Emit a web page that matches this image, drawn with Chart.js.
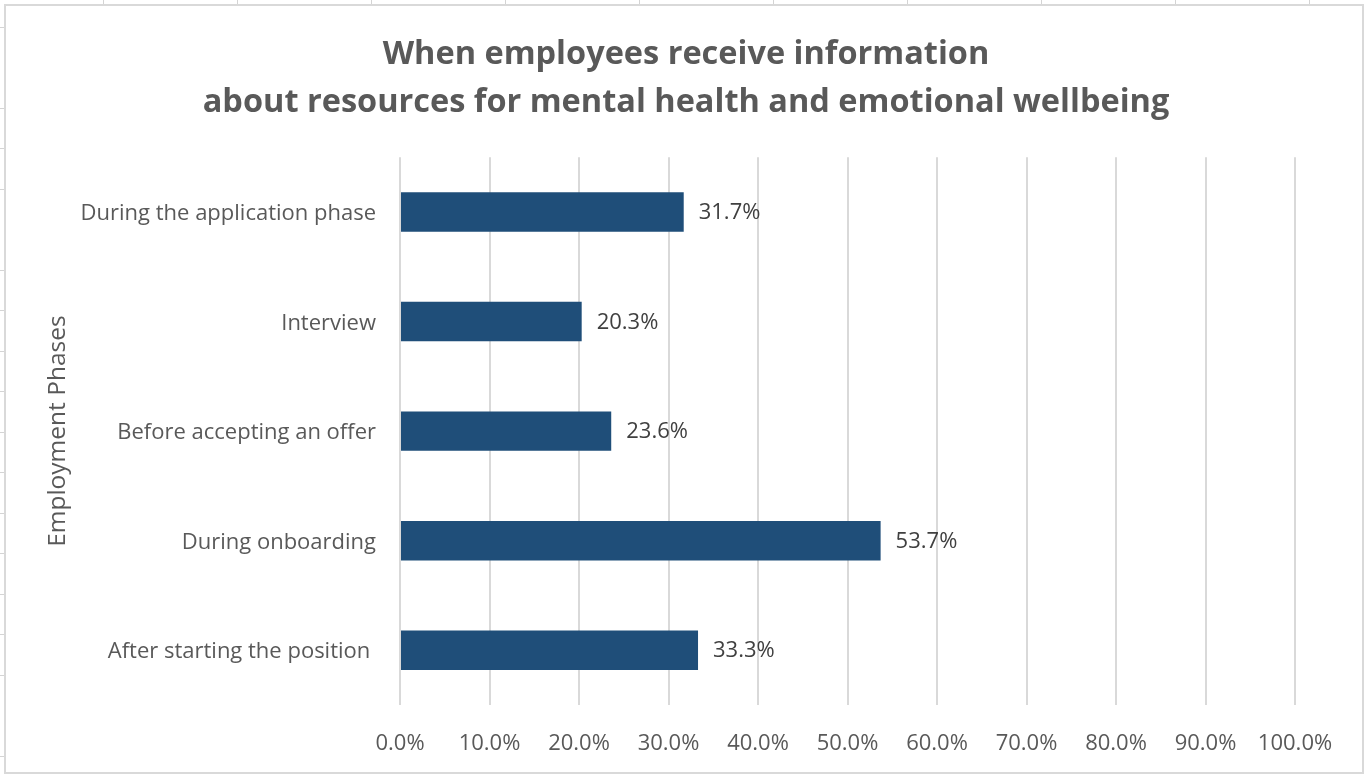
<!DOCTYPE html>
<html>
<head>
<meta charset="utf-8">
<script src="https://cdn.jsdelivr.net/npm/chart.js@4"></script>
<style>
  html, body {
    margin: 0;
    padding: 0;
    width: 1364px;
    height: 774px;
    overflow: hidden;
    background-color: #fff;
    /* spreadsheet cell lines peeking out behind the chart box */
    background-image:
      repeating-linear-gradient(to right, transparent 0, transparent 103px, #d4d4d4 103px, #d4d4d4 104px, transparent 104px, transparent 134px),
      repeating-linear-gradient(to bottom, transparent 0, transparent 27px, #d4d4d4 27px, #d4d4d4 28px, transparent 28px, transparent 40.5px);
  }
  .chart-box {
    position: absolute;
    left: 4px;
    top: 4px;
    width: 1356px;
    height: 766px;
    border: 2px solid #d9d9d9;
    background: #fff;
  }
  canvas {
    position: absolute;
    left: 0;
    top: 0;
  }
</style>
</head>
<body>
<div class="chart-box"></div>
<canvas id="phaseChart" width="1364" height="774"></canvas>

<script>

// =========================
// DATA
// =========================

const phases = [
    'During the application phase',
    'Interview',
    'Before accepting an offer',
    'During onboarding',
    'After starting the position '
];

const shares = [31.7, 20.3, 23.6, 53.7, 33.3];

const percentTicks = [0, 10, 20, 30, 40, 50, 60, 70, 80, 90, 100];

const titleLines = [
    'When employees receive information',
    'about resources for mental health and emotional wellbeing'
];

const axisTitle = 'Employment Phases';

// =========================
// STYLE
// =========================

const FONT = '"Open Sans", Lato, sans-serif';
const GREY = '#595959';

// value labels to the right of each bar
const barValueLabels = {
    id: 'barValueLabels',
    afterDatasetsDraw(chart){
        const ctx = chart.ctx;
        const meta = chart.getDatasetMeta(0);
        ctx.save();
        ctx.font = '22px ' + FONT;
        ctx.fillStyle = '#404040';
        ctx.textAlign = 'left';
        ctx.textBaseline = 'middle';
        meta.data.forEach((bar, i) => {
            ctx.fillText(shares[i].toFixed(1) + '%', bar.x + 15, bar.y + 1);
        });
        ctx.restore();
    }
};

// =========================
// CHART
// =========================

const ctx = document.getElementById('phaseChart');

new Chart(ctx, {

    type: 'bar',

    data: {
        labels: phases,
        datasets: [{
            data: shares,
            backgroundColor: '#1F4E79',
            borderWidth: 0,
            barPercentage: 0.36,
            categoryPercentage: 1
        }]
    },

    options: {
        indexAxis: 'y',
        responsive: false,
        animation: false,
        devicePixelRatio: 1,

        // wider left padding so the title sits over the middle of the box
        layout: {
            padding: { left: 77, right: 69, top: 0, bottom: 9 }
        },

        plugins: {
            legend: { display: false },
            tooltip: { enabled: false },
            title: {
                display: true,
                text: titleLines,
                color: GREY,
                font: { family: FONT, size: 32.5, weight: 'bold', lineHeight: 1.48 },
                padding: { top: 31, bottom: 30 }
            }
        },

        scales: {
            x: {
                min: 0,
                max: 100,
                afterBuildTicks(scale){
                    scale.ticks = percentTicks.map(v => ({ value: v }));
                },
                afterFit(scale){
                    scale.height = 60;
                },
                border: { display: false },
                grid: {
                    color: '#d9d9d9',
                    lineWidth: 2,
                    drawTicks: false
                },
                ticks: {
                    color: GREY,
                    padding: 26,
                    font: { family: FONT, size: 22 },
                    callback: v => v.toFixed(1) + '%'
                }
            },
            y: {
                afterFit(scale){
                    scale.width = 323;
                },
                border: { display: false },
                grid: { display: false },
                ticks: {
                    color: GREY,
                    padding: 16,
                    labelOffset: 2,
                    font: { family: FONT, size: 22 }
                },
                title: {
                    display: true,
                    text: axisTitle,
                    color: GREY,
                    padding: { top: -34, bottom: 0 },
                    font: { family: FONT, size: 24.5 }
                }
            }
        }
    },

    plugins: [barValueLabels]

});

</script>
</body>
</html>
